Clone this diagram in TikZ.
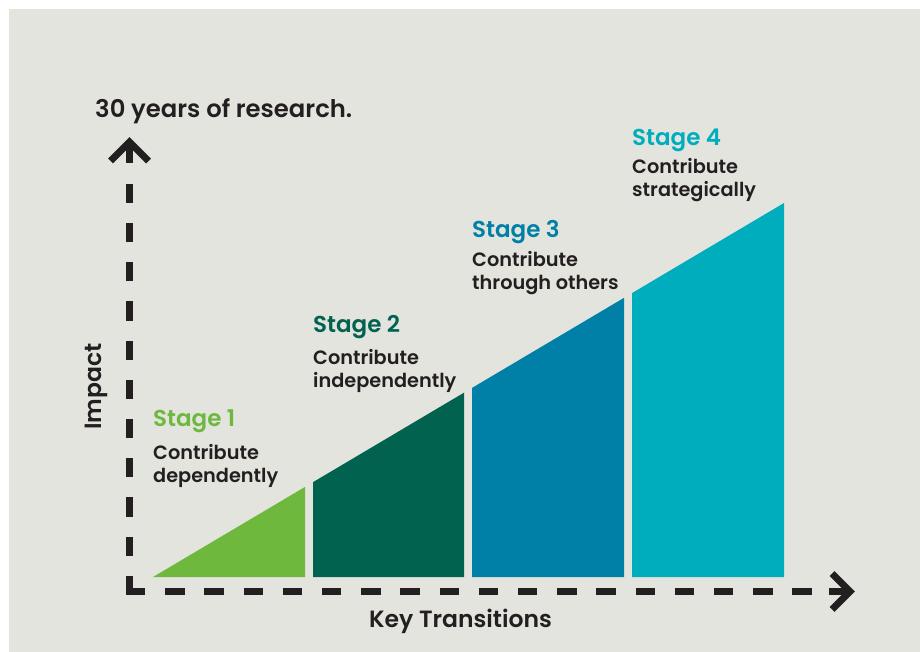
\documentclass[tikz,border=0pt]{standalone}
\usepackage{fontspec}
\setmainfont{Poppins}[UprightFont=* Medium, BoldFont=* SemiBold]
\usepackage{tikz}

\definecolor{paper}{HTML}{E4E4DF}
\definecolor{ink}{HTML}{231F20}
\definecolor{stageA}{HTML}{6EB83E}
\definecolor{stageB}{HTML}{00624F}
\definecolor{stageC}{HTML}{007FA7}
\definecolor{stageD}{HTML}{00ADBD}

\begin{document}
\begin{tikzpicture}[x=1pt, y=-1pt,
	every node/.style={inner sep=0pt, anchor=base west, text=ink},
	stagelabel/.style={font=\bfseries\fontsize{23}{28}\selectfont},
	desc/.style={font=\bfseries\fontsize{19.3}{23}\selectfont, align=left},
	axislabel/.style={font=\bfseries\fontsize{23.5}{28}\selectfont},
	axisline/.style={draw=ink, line width=7pt, dash pattern=on 19.3pt off 19.9pt},
	axistip/.style={draw=ink, line width=7pt, line join=miter}]
	\useasboundingbox (0,0) rectangle (920,652);
	\fill[white] (0,0) rectangle (920,652);
	\fill[paper] (9,9) rectangle (920,652);

	% stages sit under one rising line
	\foreach \a/\b/\c in {153/305/stageA, 313/464/stageB, 472/624/stageC, 632/784/stageD}
		\fill[\c] (\a,577) -- (\b,577) -- (\b,{577-0.5927*(\b-153)}) -- (\a,{577-0.5927*(\a-153)}) -- cycle;

	% axes
	\coordinate (origin) at (129.5,591.5);
	\coordinate (ytip) at (129.5,142);
	\coordinate (xtip) at (850,591.5);
	\draw[axisline] ([yshift=-3.5pt]origin) -- (129.5,165);
	\draw[axisline] ([xshift=-3.5pt]origin) -- (828,591.5);
	\draw[axistip] (110.5,161) -- (ytip) -- (148.5,161);
	\draw[axistip] (ytip) -- (129.5,163);
	\draw[axistip] (832,573.5) -- (xtip) -- (832,609.5);
	\draw[axistip] (xtip) -- (829,591.5);

	\node[axislabel, font=\bfseries\fontsize{24.3}{28}\selectfont] (title) at (95,117.5) {30 years of research.};
	\node[axislabel, anchor=base] (xlabel) at (460.5,627) {Key Transitions};
	\node[axislabel, anchor=base, rotate=90] (ylabel) at (101,386.5) {Impact};

	% description nodes sit on the baseline of their last line
	\node[stagelabel, text=stageA] (s1) at (153,426) {Stage 1};
	\node[desc] (d1) at (153,482) {Contribute\\dependently};
	\node[stagelabel, text=stageB] (s2) at (313,332) {Stage 2};
	\node[desc] (d2) at (313,387) {Contribute\\independently};
	\node[stagelabel, text=stageC] (s3) at (472,238) {Stage 3};
	\node[desc] (d3) at (472,289) {Contribute\\through others};
	\node[stagelabel, text=stageD] (s4) at (632,146) {Stage 4};
	\node[desc] (d4) at (632,197) {Contribute\\strategically};
\end{tikzpicture}
\end{document}
